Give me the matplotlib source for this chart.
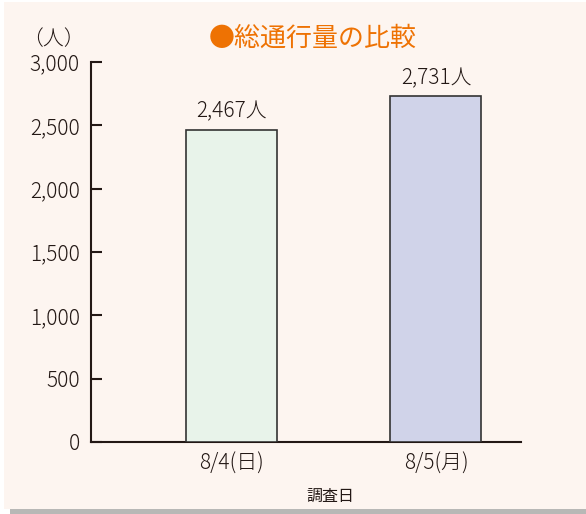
import matplotlib
matplotlib.use("Agg")
import matplotlib.pyplot as plt
from matplotlib.patches import Rectangle

plt.rcParams['font.family'] = ['Noto Sans CJK JP', 'DejaVu Sans']
plt.rcParams['font.weight'] = 'light'

# data
days = ['8/4(日)', '8/5(月)']
traffic = [2467, 2731]
bar_colors = ['#e8f3ea', '#d0d3e9']
yticks = [0, 500, 1000, 1500, 2000, 2500, 3000]

fig = plt.figure(figsize=(5.86, 5.14), dpi=100)
fig.patch.set_facecolor('white')

# panel with grey shadow at the bottom
fig.patches.append(Rectangle((10/586, 0.0), 576/586, 7/514, transform=fig.transFigure,
                             facecolor='#b8b8b6', edgecolor='none', zorder=-2))
fig.patches.append(Rectangle((4/586, 5/514), 582/586, 1 - 7/514, transform=fig.transFigure,
                             facecolor='#fdf5f0', edgecolor='none', zorder=-1))

ax = fig.add_axes([91/586, 1 - 442/514, 430/586, 380/514])
ax.set_facecolor('none')

x = list(range(len(days)))
ax.bar(x, traffic, width=0.445, color=bar_colors, edgecolor='#333333', linewidth=1.2, zorder=3)
for xi, v in zip(x, traffic):
    ax.text(xi, v + 55, f'{v:,}人', ha='center', va='bottom', fontsize=15, color='#231815')

ax.set_xlim(-0.687, 1.416)
ax.set_ylim(0, 3000)
ax.set_xticks(x)
ax.set_xticklabels(days, fontsize=15, color='#231815')
ax.set_yticks(yticks)
ax.set_yticklabels([f'{t:,}' for t in yticks], fontsize=15, color='#231815')
ax.tick_params(axis='y', direction='in', length=8, width=1.5, color='#231815', pad=8)
ax.tick_params(axis='x', length=0, pad=8)

for s in ['top', 'right']:
    ax.spines[s].set_visible(False)
for s in ['left', 'bottom']:
    ax.spines[s].set_color('#231815')
    ax.spines[s].set_linewidth(1.5)

ax.set_xlabel('調査日', fontsize=11.5, color='#231815')
ax.xaxis.set_label_coords((330 - 91) / 430, -0.12)

fig.text(53/586, 1 - 39/514, '（人）', ha='center', va='center', fontsize=15, color='#231815')
fig.text(313/586, 1 - 38/514, '●総通行量の比較', ha='center', va='center', fontsize=18.7,
         color='#ee7203', fontweight='normal')

fig.savefig('out.png', dpi=100, facecolor=fig.get_facecolor())
